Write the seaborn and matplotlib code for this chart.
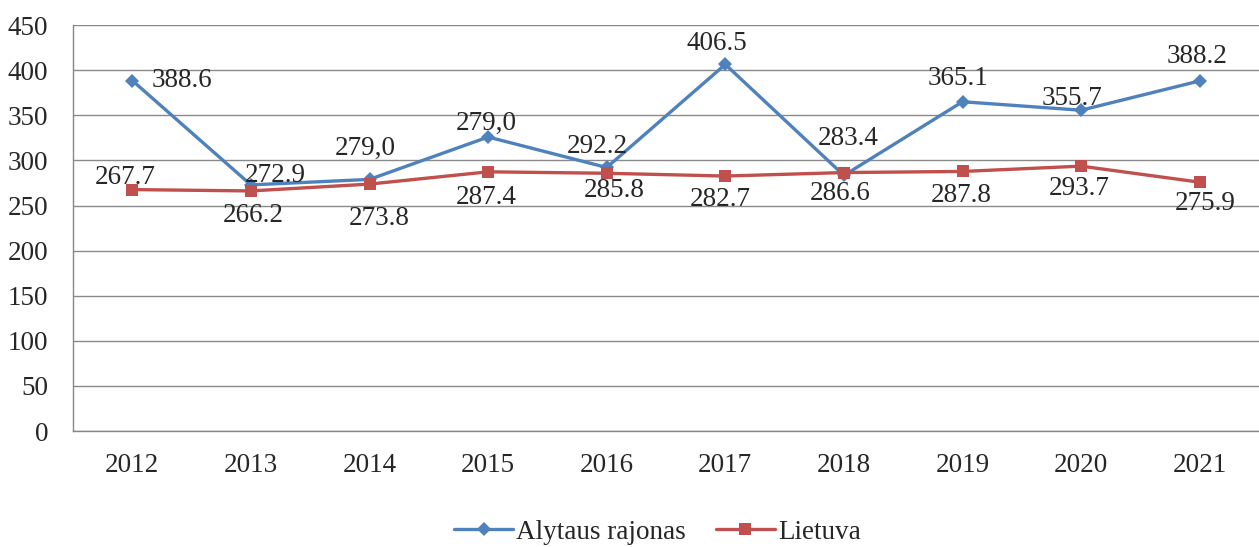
import pandas as pd
import numpy as np
import matplotlib.pyplot as plt
import matplotlib.ticker as mticker
import seaborn as sns

# data
years = [2012, 2013, 2014, 2015, 2016, 2017, 2018, 2019, 2020, 2021]
alytaus = [388.6, 272.9, 279.0, 326.0, 292.2, 406.5, 283.4, 365.1, 355.7, 388.2]
lietuva = [267.7, 266.2, 273.8, 287.4, 285.8, 282.7, 286.6, 287.8, 293.7, 275.9]
alytaus_labels = ['388.6', '272.9', '279,0', '279,0', '292.2', '406.5', '283.4', '365.1', '355.7', '388.2']
lietuva_labels = ['267.7', '266.2', '273.8', '287.4', '285.8', '282.7', '286.6', '287.8', '293.7', '275.9']

# label offsets in pixels (dx, dy)
alytaus_off = [(50, 0), (24, 9), (-4, 31), (-2, 14), (-9, 21), (-8, 21), (4, 37), (-5, 23), (-9, 12), (-3, 24)]
lietuva_off = [(-7, 12), (2, -25), (10, -34), (-2, -26), (7, -17), (-5, -23), (-4, -21), (-1, -24), (-2, -22), (5, -21)]

df = pd.DataFrame({
    'Metai': years * 2,
    'Reikšmė': alytaus + lietuva,
    'Serija': ['Alytaus rajonas'] * len(years) + ['Lietuva'] * len(years),
})

sns.set_style('white')
plt.rcParams['font.family'] = ['Liberation Serif', 'DejaVu Serif']
fs = 19.5

fig = plt.figure(figsize=(12.59, 5.47), dpi=100)
ax = fig.add_axes([0.058, 0.212, 0.942, 0.742])

blue = '#4F81BD'
red = '#C0504D'

sns.lineplot(data=df, x='Metai', y='Reikšmė', hue='Serija', style='Serija',
             palette=[blue, red], markers=['D', 's'], dashes=False,
             linewidth=2.4, markersize=8, markeredgewidth=0, ax=ax, legend=False)
# diamond a bit smaller, squares a bit larger
ax.lines[0].set_markersize(7)
ax.lines[1].set_markersize(9)

for i, y in enumerate(years):
    ax.annotate(alytaus_labels[i], (y, alytaus[i]), xytext=alytaus_off[i],
                textcoords='offset pixels', ha='center', va='center', fontsize=fs)
    ax.annotate(lietuva_labels[i], (y, lietuva[i]), xytext=lietuva_off[i],
                textcoords='offset pixels', ha='center', va='center', fontsize=fs)

ax.set_xlim(2011.5, 2021.5)
ax.set_ylim(0, 450)
ax.yaxis.set_major_locator(mticker.MultipleLocator(50))
ax.set_xticks(years)
ax.set_xticklabels([str(y) for y in years])
ax.xaxis.set_minor_locator(mticker.FixedLocator(np.arange(2011.5, 2022, 1)))
ax.tick_params(axis='x', which='major', length=0, labelsize=fs, pad=16)
ax.tick_params(axis='x', which='minor', length=8, color='#868686', width=1, direction='out')
ax.tick_params(axis='y', length=6, color='#868686', width=1, labelsize=fs, pad=12, direction='out')
ax.grid(axis='y', color='#8a8a8a', linewidth=1)
ax.set_axisbelow(True)
ax.set_xlabel('')
ax.set_ylabel('')
for s in ['top', 'right']:
    ax.spines[s].set_visible(False)
for s in ['left', 'bottom']:
    ax.spines[s].set_color('#868686')
    ax.spines[s].set_linewidth(1)

handles = [plt.Line2D([], [], color=blue, marker='D', markersize=7, lw=2.4, markeredgewidth=0),
           plt.Line2D([], [], color=red, marker='s', markersize=9, lw=2.4, markeredgewidth=0)]
fig.legend(handles, ['Alytaus rajonas', 'Lietuva'], loc='center', bbox_to_anchor=(0.522, 0.027),
           ncol=2, frameon=False, fontsize=fs, handlelength=2.2, handletextpad=0.1, columnspacing=1.1,
           borderpad=0.1)

fig.savefig('out.png', dpi=100)
